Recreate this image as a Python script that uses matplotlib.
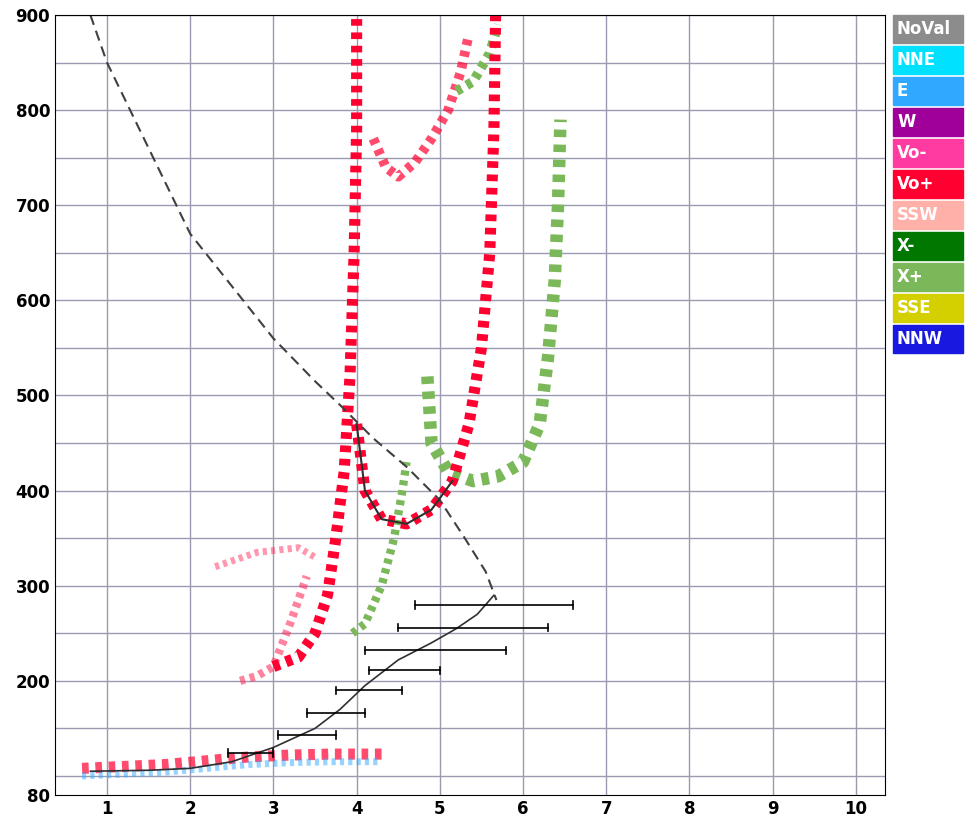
import matplotlib
matplotlib.use("Agg")
import matplotlib.pyplot as plt
import matplotlib.patches as mp

legend_names = ["NoVal","NNE","E","W","Vo-","Vo+","SSW","X-","X+","SSE","NNW"]
legend_colors = ["#8c8c8c","#00e0ff","#30a8ff","#a0009a","#ff3aa0","#ff0030","#ffb0a8","#007800","#7ab85a","#d4d000","#1818e0"]

dash_x = [0.8,1.0,1.5,2.0,2.5,3.0,3.5,3.8,4.2,4.6,5.0,5.3,5.55,5.68]
dash_y = [900,850,760,670,615,560,515,490,455,425,390,350,315,285]
prof_x = [0.8,1.5,2.0,2.5,3.0,3.5,3.8,4.1,4.5,4.9,5.2,5.45,5.65]
prof_y = [105,106,108,115,130,150,170,195,222,240,255,270,290]
err_y = [280,256,232,211,190,166,143,124]
err_lo = [4.7,4.5,4.1,4.15,3.75,3.4,3.05,2.45]
err_hi = [6.6,6.3,5.8,5.0,4.55,4.1,3.75,3.0]

o1_x = [3.0,3.3,3.5,3.65,3.75,3.85,3.92,3.97,4.0,4.0]
o1_y = [215,225,250,290,350,420,520,650,780,900]
o2_x = [4.0,4.1,4.3,4.6,4.9,5.15,5.35,5.5,5.6,5.65,5.67]
o2_y = [470,400,370,365,380,410,470,550,650,780,900]
o3_x = [4.2,4.35,4.5,4.7,4.9,5.1,5.25,5.35]
o3_y = [770,740,730,745,770,800,840,880]
o4_x = [2.6,2.8,3.0,3.2,3.4]
o4_y = [200,205,215,260,310]
o5_x = [2.3,2.8,3.3,3.5]
o5_y = [320,335,340,330]
x1_x = [3.95,4.1,4.3,4.45,4.55,4.6]
x1_y = [250,260,300,350,400,430]
x2_x = [4.85,4.9,5.1,5.4,5.7,6.0,6.2,6.3,6.38,6.42,6.45]
x2_y = [520,450,420,410,415,430,470,540,620,700,790]
x3_x = [5.2,5.4,5.6,5.7]
x3_y = [820,830,860,890]
low_x = [0.7,1.2,1.7,2.2,2.7,3.2,3.7,4.3]
low_y = [108,110,112,116,120,122,123,123]

fig = plt.figure(figsize=(9.65,8.36), dpi=100)
ax = fig.add_axes([55/965, 41/836, 830/965, 780/836])
ax.set_xlim(0.375,10.35); ax.set_ylim(80,900)
for v in range(1,11): ax.axvline(v,color="#9a9ab0",lw=1,zorder=0)
for v in range(100,901,50): ax.axhline(v,color="#9a9ab0",lw=1,zorder=0)
ds=(0,(0.6,0.6))
ax.plot(o4_x,o4_y,color="#ff3060",lw=6,ls=ds,alpha=0.6)
ax.plot(o5_x,o5_y,color="#ff3060",lw=5,ls=ds,alpha=0.5)
ax.plot(o3_x,o3_y,color="#ff0030",lw=7,ls=ds,alpha=0.7)
ax.plot(x3_x,x3_y,color="#7ab85a",lw=7,ls=ds)
ax.plot(x1_x,x1_y,color="#7ab85a",lw=6,ls=ds)
ax.plot(x2_x,x2_y,color="#7ab85a",lw=9,ls=ds)
ax.plot(o1_x,o1_y,color="#ff0030",lw=8,ls=ds)
ax.plot(o2_x,o2_y,color="#ff0030",lw=8,ls=ds)
ax.plot(low_x,low_y,color="#ff0030",lw=8,ls=ds,alpha=0.7)
ax.plot(low_x,[v-8 for v in low_y],color="#30a8ff",lw=5,ls=ds,alpha=0.5)
ax.plot(dash_x,dash_y,color="#404040",lw=1.5,ls=(0,(5,3)))
ax.plot(prof_x,prof_y,color="#303030",lw=1.2)
ax.plot(o2_x[:6],o2_y[:6],color="#303030",lw=1.5)
for y,a,b in zip(err_y,err_lo,err_hi):
    ax.plot([a,b],[y,y],color="black",lw=1.2)
    ax.plot([a,a],[y-4,y+4],color="black",lw=1.2)
    ax.plot([b,b],[y-4,y+4],color="black",lw=1.2)
ax.set_xticks(range(1,11)); ax.set_yticks([80,200,300,400,500,600,700,800,900])
ax.tick_params(labelsize=12,length=0)
for t in ax.get_xticklabels()+ax.get_yticklabels(): t.set_fontweight("bold")
for i,(n,c) in enumerate(zip(legend_names,legend_colors)):
    y0 = 1-(15+i*31)/836
    fig.patches.append(mp.Rectangle((893/965,y0-28/836),70/965,28/836,color=c,transform=fig.transFigure))
    fig.text(897/965,y0-14/836,n,color="white",fontsize=12,fontweight="bold",va="center")
fig.savefig("out.png")
